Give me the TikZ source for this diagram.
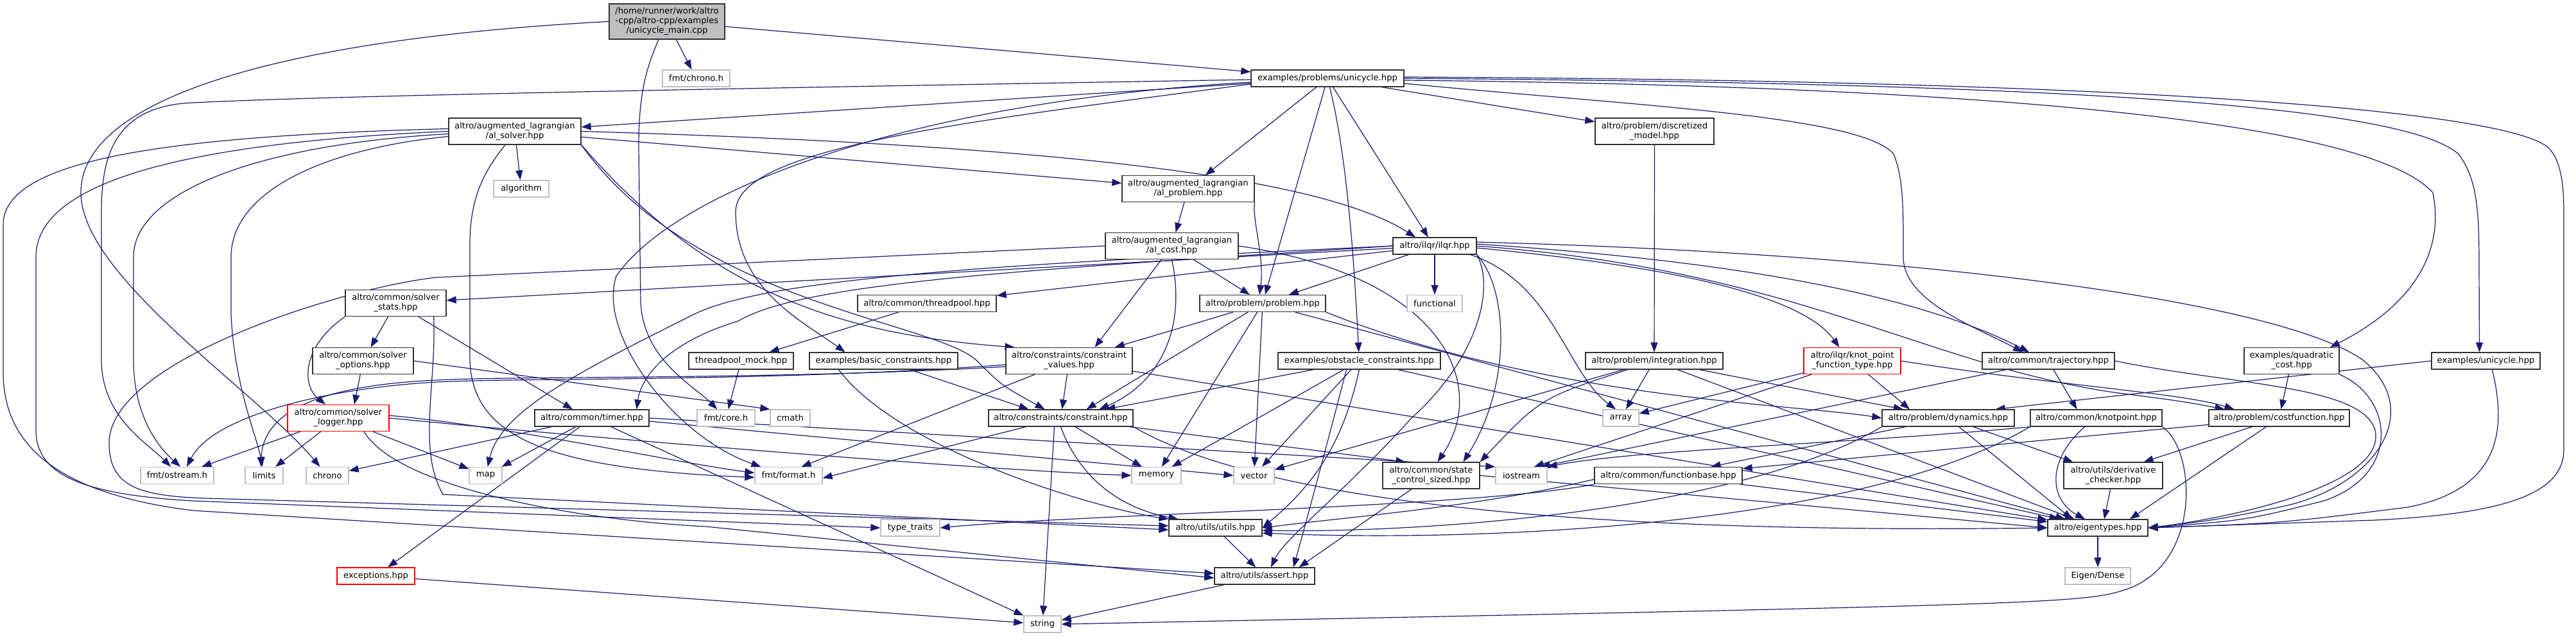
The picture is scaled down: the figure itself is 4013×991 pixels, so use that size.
\documentclass[tikz,border=0pt]{standalone}
\usepackage{fontspec}
\setmainfont{DejaVu Sans}
\usetikzlibrary{arrows.meta}
\definecolor{edgecol}{RGB}{25,25,112}
\definecolor{sysgray}{RGB}{191,191,191}
\definecolor{boxborder}{RGB}{50,50,50}
\pgfdeclarelayer{bg}
\pgfsetlayers{bg,main}
\tikzset{
  nb/.style={draw=boxborder, fill=white, line width=1.3pt, inner xsep=6pt, inner ysep=2pt, align=center, minimum height=26pt, font=\fontsize{13.2}{15}\selectfont},
  nb2/.style={nb, minimum height=41pt},
  sys/.style={nb, draw=sysgray},
  redbox/.style={nb, draw=red},
  redbox2/.style={nb2, draw=red},
  root/.style={nb, fill=sysgray, minimum height=55pt},
  ed/.style={draw=edgecol, line width=1.2pt, -{Triangle[length=15pt,width=11pt]}},
}
\begin{document}
\begin{tikzpicture}[x=1pt,y=-1pt]
\useasboundingbox (0,0) rectangle (4013,991);
% ---------- nodes ----------
\node[root, minimum width=180pt] (main) at (1039,33.5) {/home/runner/work/altro\\-cpp/altro-cpp/examples\\/unicycle\_main.cpp};
\node[sys, minimum width=105pt] (fmtchrono) at (1084.5,122) {fmt/chrono.h};
\node[nb, minimum width=238pt] (uni) at (2068,122) {examples/problems/unicycle.hpp};
\node[nb2, minimum width=206pt] (alsolver) at (802,204.5) {altro/augmented\_lagrangian\\/al\_solver.hpp};
\node[nb2, minimum width=185pt] (discretized) at (2577.5,204.5) {altro/problem/discretized\\\_model.hpp};
\node[sys, minimum width=86pt] (algorithm) at (812,294) {algorithm};
\node[nb2, minimum width=206pt] (alproblem) at (1851,294) {altro/augmented\_lagrangian\\/al\_problem.hpp};
\node[nb2, minimum width=207pt] (alcost) at (1825.5,383) {altro/augmented\_lagrangian\\/al\_cost.hpp};
\node[nb, minimum width=130pt] (ilqr) at (2235,383) {altro/ilqr/ilqr.hpp};
\node[nb2, minimum width=157pt] (solverstats) at (616.5,472) {altro/common/solver\\\_stats.hpp};
\node[nb, minimum width=216pt] (threadpool) at (1444,472.5) {altro/common/threadpool.hpp};
\node[nb, minimum width=196pt] (problem) at (1967,472.5) {altro/problem/problem.hpp};
\node[sys, minimum width=86pt] (functional) at (2235,472.5) {functional};
\node[nb2, minimum width=157pt] (solveroptions) at (565.5,562) {altro/common/solver\\\_options.hpp};
\node[nb, minimum width=163pt] (threadpoolmock) at (1154.5,562) {threadpool\_mock.hpp};
\node[nb, minimum width=231pt] (basiccons) at (1376.5,562) {examples/basic\_constraints.hpp};
\node[nb2, minimum width=197pt] (cvalues) at (1665.5,562) {altro/constraints/constraint\\\_values.hpp};
\node[nb, minimum width=253pt] (obstacle) at (2117.5,562) {examples/obstacle\_constraints.hpp};
\node[nb, minimum width=214pt] (integration) at (2577,562) {altro/problem/integration.hpp};
\node[redbox2, minimum width=151pt] (knotft) at (2885.5,562) {altro/ilqr/knot\_point\\\_function\_type.hpp};
\node[nb, minimum width=206pt] (trajectory) at (3191,562) {altro/common/trajectory.hpp};
\node[nb2, minimum width=148pt] (quadcost) at (3570,562) {examples/quadratic\\\_cost.hpp};
\node[nb, minimum width=169pt] (exuni) at (3872.5,562) {examples/unicycle.hpp};
\node[redbox2, minimum width=158pt] (solverlogger) at (527,651) {altro/common/solver\\\_logger.hpp};
\node[nb, minimum width=178pt] (timer) at (922,651) {altro/common/timer.hpp};
\node[sys, minimum width=90pt] (fmtcore) at (1131,651) {fmt/core.h};
\node[sys, minimum width=62pt] (cmath) at (1231,651) {cmath};
\node[nb, minimum width=225pt] (constraint) at (1652.5,651) {altro/constraints/constraint.hpp};
\node[sys, minimum width=56pt] (array) at (2525,651) {array};
\node[nb, minimum width=206pt] (dynamics) at (3035,651) {altro/problem/dynamics.hpp};
\node[nb, minimum width=205pt] (knotpoint) at (3265.5,651) {altro/common/knotpoint.hpp};
\node[nb, minimum width=219pt] (costfunction) at (3550.5,651) {altro/problem/costfunction.hpp};
\node[sys, minimum width=114pt] (fmtostream) at (276,740.5) {fmt/ostream.h};
\node[sys, minimum width=59pt] (limits) at (411.5,740.5) {limits};
\node[sys, minimum width=66pt] (chrono) at (510,740.5) {chrono};
\node[sys, minimum width=51pt] (map) at (756.5,740.5) {map};
\node[sys, minimum width=105pt] (fmtformat) at (1228.5,740.5) {fmt/format.h};
\node[sys, minimum width=77pt] (memory) at (1801.5,740.5) {memory};
\node[sys, minimum width=63pt] (vector) at (1953.5,740.5) {vector};
\node[nb2, minimum width=151pt] (statecontrol) at (2229.5,740.5) {altro/common/state\\\_control\_sized.hpp};
\node[sys, minimum width=80pt] (iostream) at (2370,740.5) {iostream};
\node[nb, minimum width=230pt] (functionbase) at (2599,740.5) {altro/common/functionbase.hpp};
\node[nb2, minimum width=154pt] (derivative) at (3292,740.5) {altro/utils/derivative\\\_checker.hpp};
\node[sys, minimum width=92pt] (typetraits) at (1418,822) {type\_traits};
\node[nb, minimum width=145pt] (utils) at (1893.5,822) {altro/utils/utils.hpp};
\node[nb, minimum width=156pt] (eigen) at (3268,822) {altro/eigentypes.hpp};
\node[redbox, minimum width=121pt] (exceptions) at (585.5,897) {exceptions.hpp};
\node[nb, minimum width=156pt] (assert) at (1970,897) {altro/utils/assert.hpp};
\node[sys, minimum width=102pt] (eigendense) at (3268,897) {Eigen/Dense};
\node[sys, minimum width=58pt] (string) at (1624,972) {string};
% ---------- edges ----------
\begin{pgfonlayer}{bg}
\fill[white] (0,0) rectangle (4013,991);
% main
\draw[ed] (main) -- (fmtchrono);
\draw[ed] (main) -- (uni);
\draw[ed] (main.west) .. controls (450,60) and (126,150) .. (126,300) .. controls (126,430) and (400,610) .. (chrono);
\draw[ed] ([xshift=-13pt]main.south) .. controls (1005,110) and (995,150) .. (995,230) -- (998,470) .. controls (1002,560) and (1080,600) .. (fmtcore);
% examples/problems/unicycle.hpp
\draw[ed] (uni) -- (alsolver);
\draw[ed] (uni) -- (alproblem);
\draw[ed] (uni) -- (problem);
\draw[ed] (uni) -- ([xshift=-10pt]ilqr.north);
\draw[ed] (uni) -- (discretized);
\draw[ed] (uni) .. controls (2100,250) and (2110,420) .. (obstacle);
\draw[ed] ([yshift=-2pt]uni.west) .. controls (1000,140) and (500,150) .. (300,160) .. controls (180,165) and (158,240) .. (158,330) -- (158,560) .. controls (158,650) and (230,690) .. ([xshift=-10pt]fmtostream.north);
\draw[ed] ([yshift=-6pt]uni.west) .. controls (1400,160) and (1050,300) .. (960,430) .. controls (930,520) and (1050,680) .. ([xshift=10pt]fmtformat.north west);
\draw[ed] ([yshift=-9pt]uni.west) .. controls (1500,190) and (1146,230) .. (1146,330) .. controls (1146,450) and (1250,500) .. ([xshift=-60pt]basiccons.north);
\draw[ed] ([yshift=-8pt]uni.east) .. controls (2550,165) and (2900,180) .. (2950,240) .. controls (2966,280) and (2965,330) .. (2965,400) .. controls (2965,470) and (3080,510) .. ([xshift=-40pt]trajectory.north);
\draw[ed] ([yshift=2pt]uni.east) .. controls (3300,125) and (3900,170) .. (3970,230) .. controls (3990,250) and (3994,290) .. (3994,330) -- (3994,700) .. controls (3994,770) and (3900,800) .. (3700,810) -- (eigen.east);
\draw[ed] (uni.east) .. controls (3300,130) and (3750,170) .. (3830,240) .. controls (3860,280) and (3862,330) .. (3862,420) -- ([xshift=-10pt]exuni.north);
\draw[ed] ([yshift=-3pt]uni.east) .. controls (3200,135) and (3700,200) .. (3790,300) .. controls (3810,400) and (3750,480) .. ([xshift=60pt]quadcost.north);
% al_solver
\draw[ed] (alsolver) -- (algorithm);
\draw[ed] (alsolver) -- (alproblem);
\draw[ed] (alsolver.east) .. controls (1600,225) and (2050,270) .. ([xshift=-30pt]ilqr.north);
\draw[ed] ([yshift=-8pt]alsolver.west) .. controls (500,232) and (360,300) .. (360,400) -- (360,490) .. controls (365,600) and (400,680) .. (limits);
\draw[ed] ([yshift=-4pt]alsolver.west) .. controls (400,225) and (208,300) .. (208,400) -- (208,560) .. controls (208,640) and (240,690) .. ([xshift=5pt]fmtostream.north);
\draw[ed] (alsolver.west) .. controls (300,222) and (56,280) .. (56,400) -- (56,670) .. controls (56,740) and (130,770) .. (300,780) -- (typetraits.west);
\draw[ed] ([yshift=4pt]alsolver.west) .. controls (250,212) and (5,250) .. (5,350) -- (5,580) .. controls (5,700) and (100,770) .. (300,795) -- ([yshift=4pt]assert.west);
\draw[ed] ([xshift=-15pt]alsolver.south) .. controls (760,260) and (732,300) .. (732,380) -- (732,560) .. controls (735,680) and (850,730) .. ([yshift=-3pt]fmtformat.west);
\draw[ed] (alsolver.south east) .. controls (1100,450) and (1300,520) .. ([xshift=-85pt]cvalues.north);
\draw[ed] (alsolver.south east) .. controls (1080,470) and (1450,500) .. (1520,560) .. controls (1560,600) .. ([xshift=-25pt]constraint.north);
% al_problem / al_cost
\draw[ed] (alproblem) -- (alcost);
\draw[ed] (alproblem.south east) .. controls (1950,340) and (1970,400) .. ([xshift=-5pt]problem.north);
\draw[ed] (alcost) -- ([xshift=-20pt]problem.north);
\draw[ed] (alcost) -- ([xshift=40pt]cvalues.north);
\draw[ed] (alcost.south) .. controls (1850,520) and (1800,600) .. ([xshift=60pt]constraint.north);
\draw[ed] (alcost.west) -- (680,432) .. controls (540,447) and (170,560) .. (170,690) .. controls (170,760) and (220,772) .. (320,776) -- ([yshift=3pt]utils.west);
\draw[ed] (alcost.east) .. controls (2250,430) and (2320,600) .. ([xshift=10pt]statecontrol.north);
% discretized
\draw[ed] (discretized) -- (integration);
% ilqr
\draw[ed] (ilqr) -- (solverstats);
\draw[ed] (ilqr) -- (threadpool);
\draw[ed] (ilqr) -- (problem);
\draw[ed] (ilqr) -- (functional);
\draw[ed] (ilqr.west) .. controls (1600,420) and (1250,440) .. (1150,500) .. controls (1050,530) and (1000,580) .. ([xshift=-20pt]timer.north east);
\draw[ed] (ilqr.west) .. controls (1600,410) and (1200,430) .. (1080,490) .. controls (900,580) and (780,640) .. (map);
\draw[ed] (ilqr.south east) .. controls (2330,450) and (2300,560) .. (2200,650) .. controls (2100,760) and (2000,840) .. ([xshift=10pt]assert.north);
\draw[ed] (ilqr.south east) .. controls (2350,450) and (2355,600) .. ([xshift=50pt]statecontrol.north);
\draw[ed] ([xshift=-10pt]ilqr.south east) .. controls (2420,440) and (2440,580) .. ([xshift=-8pt]array.north);
\draw[ed] ([yshift=3pt]ilqr.east) .. controls (2600,400) and (2950,440) .. ([xshift=-30pt]trajectory.north);
\draw[ed] ([yshift=-3pt]ilqr.east) .. controls (2550,410) and (2800,450) .. ([xshift=-20pt]knotft.north);
\draw[ed] (ilqr.east) .. controls (2800,420) and (3000,570) .. (3300,612) .. controls (3400,625) .. ([xshift=-85pt]costfunction.north);
\draw[ed] ([yshift=6pt]ilqr.east) .. controls (3000,395) and (3550,470) .. (3680,560) .. controls (3780,640) and (3700,760) .. (3550,790) .. controls (3450,810) .. (eigen.east);
% solver_stats / options / logger
\draw[ed] (solverstats) -- (solveroptions);
\draw[ed] (solverstats.south west) .. controls (470,540) and (470,600) .. ([xshift=-20pt]solverlogger.north);
\draw[ed] (solverstats) -- ([xshift=-30pt]timer.north);
\draw[ed] ([xshift=-20pt]solverstats.south east) .. controls (680,600) and (650,700) .. (690,770) -- ([yshift=-3pt]utils.west);
\draw[ed] (solveroptions) -- ([xshift=25pt]solverlogger.north);
\draw[ed] (solveroptions.east) -- (cmath.north west);
\draw[ed] (solverlogger) -- (fmtostream);
\draw[ed] (solverlogger) -- (limits);
\draw[ed] (solverlogger) -- (map);
\draw[ed] ([yshift=4pt]solverlogger.east) .. controls (800,665) and (1050,720) .. ([yshift=4pt]fmtformat.west);
\draw[ed] (solverlogger.east) .. controls (900,680) and (1500,730) .. (memory.west);
\draw[ed] ([xshift=40pt]solverlogger.south) .. controls (620,760) and (900,810) .. (1100,820) -- ([yshift=-3pt]assert.west);
% threadpool
\draw[ed] (threadpool) -- (threadpoolmock);
\draw[ed] (threadpoolmock) -- (fmtcore);
% timer
\draw[ed] (timer) -- (chrono);
\draw[ed] (timer) -- (map);
\draw[ed] (timer) -- (exceptions);
\draw[ed] (timer) -- (string);
\draw[ed] (timer.east) -- (iostream.north west);
\draw[ed] ([yshift=-5pt]timer.east) -- (vector.west);
% problem
\draw[ed] (problem) -- (cvalues);
\draw[ed] (problem) .. controls (1820,560) .. ([xshift=40pt]constraint.north);
\draw[ed] (problem) -- (memory);
\draw[ed] (problem) -- (vector);
\draw[ed] (problem.south east) .. controls (2400,620) and (2800,630) .. (dynamics.west);
\draw[ed] (problem) -- (eigen);
% basic constraints
\draw[ed] (basiccons) -- ([xshift=-50pt]constraint.north);
\draw[ed] ([xshift=-70pt]basiccons.south) .. controls (1400,700) and (1700,790) .. (utils.north west);
% constraint values
\draw[ed] (cvalues) -- (constraint);
\draw[ed] ([yshift=-6pt]cvalues.west) .. controls (1200,595) and (800,588) .. (680,595) .. controls (500,605) and (330,650) .. ([xshift=15pt]fmtostream.north);
\draw[ed] ([yshift=-9pt]cvalues.west) .. controls (1200,592) and (800,585) .. (680,592) .. controls (500,600) and (410,640) .. ([xshift=-5pt]limits.north);
\draw[ed] (cvalues) -- ([xshift=20pt]fmtformat.north);
\draw[ed] (cvalues) -- (eigen);
% constraint
\draw[ed] (constraint) -- (memory);
\draw[ed] ([xshift=-10pt]constraint.south) -- (string);
\draw[ed] (constraint.south) .. controls (1680,740) and (1740,790) .. ([xshift=15pt]utils.north west);
\draw[ed] (constraint) -- ([xshift=-40pt]statecontrol.north);
\draw[ed] (constraint.south east) .. controls (2000,800) and (2600,830) .. (eigen.west);
\draw[ed] (constraint) -- ([yshift=-4pt]fmtformat.east);
% obstacle
\draw[ed] (obstacle) -- ([xshift=70pt]constraint.north);
\draw[ed] (obstacle) -- (memory);
\draw[ed] (obstacle) -- (vector);
\draw[ed] (obstacle.south) .. controls (2090,700) and (2040,760) .. (utils.east);
\draw[ed] ([xshift=-20pt]obstacle.south) .. controls (2060,720) and (2030,830) .. ([xshift=45pt]assert.north);
\draw[ed] (obstacle) -- (eigen);
% integration
\draw[ed] (integration) -- (array);
\draw[ed] (integration) -- (dynamics);
\draw[ed] (integration) .. controls (2400,620) .. (statecontrol.north east);
\draw[ed] (integration) -- (vector);
\draw[ed] (integration) -- (eigen);
% knot point function type
\draw[ed] (knotft) -- (array);
\draw[ed] (knotft) -- ([xshift=-60pt]dynamics.north);
\draw[ed] (knotft.east) .. controls (3200,600) and (3400,612) .. ([xshift=-70pt]costfunction.north);
\draw[ed] (knotft) -- ([xshift=20pt]iostream.north);
% trajectory
\draw[ed] (trajectory) -- ([xshift=-30pt]knotpoint.north);
\draw[ed] (trajectory) -- ([xshift=30pt]iostream.north);
\draw[ed] (trajectory.east) .. controls (3480,600) and (3680,600) .. (3700,670) .. controls (3720,760) and (3450,810) .. (eigen.east);
% quadratic cost
\draw[ed] (quadcost) -- (costfunction);
\draw[ed] (quadcost.south east) .. controls (3730,620) and (3740,740) .. (3620,780) .. controls (3500,810) .. (eigen.east);
% examples/unicycle
\draw[ed] (exuni.west) -- ([xshift=-30pt]dynamics.north east);
\draw[ed] ([xshift=10pt]exuni.south) .. controls (3900,650) and (3910,760) .. (3750,790) .. controls (3550,815) .. (eigen.east);
% dynamics
\draw[ed] (dynamics) -- (functionbase);
\draw[ed] (dynamics) -- ([xshift=15pt]derivative.north west);
\draw[ed] (dynamics) -- ([xshift=-40pt]eigen.north);
\draw[ed] (dynamics.south west) .. controls (2700,800) and (2200,830) .. ([yshift=-4pt]utils.east);
% knotpoint
\draw[ed] ([xshift=-18pt]knotpoint.south) .. controls (3185,720) and (3195,780) .. ([xshift=-20pt]eigen.north);
\draw[ed] (knotpoint.south west) .. controls (2900,820) and (2300,845) .. ([yshift=-8pt]utils.east);
\draw[ed] (knotpoint.south west) .. controls (2900,690) and (2550,700) .. (iostream.north east);
\draw[ed] (knotpoint.south east) .. controls (3420,700) and (3430,870) .. (3320,915) .. controls (3250,940) .. (string.east);
% cost function
\draw[ed] (costfunction) -- (functionbase);
\draw[ed] (costfunction) -- ([xshift=-30pt]derivative.north east);
\draw[ed] (costfunction) -- ([xshift=50pt]eigen.north);
% state control sized
\draw[ed] (statecontrol) -- ([xshift=-25pt]assert.north east);
\draw[ed] (statecontrol.east) -- (eigen.west);
% function base
\draw[ed] ([yshift=-6pt]functionbase.west) .. controls (2300,790) and (2100,805) .. (utils.east);
\draw[ed] (functionbase) -- (eigen);
\draw[ed] (functionbase.south west) .. controls (2300,790) and (1700,800) .. (typetraits.east);
% rest
\draw[ed] (derivative) -- ([xshift=10pt]eigen.north);
\draw[ed] (utils) -- (assert);
\draw[ed] (eigen) -- (eigendense);
\draw[ed] (assert) -- (string);
\draw[ed] (exceptions) -- (string);
\end{pgfonlayer}
\end{tikzpicture}
\end{document}
